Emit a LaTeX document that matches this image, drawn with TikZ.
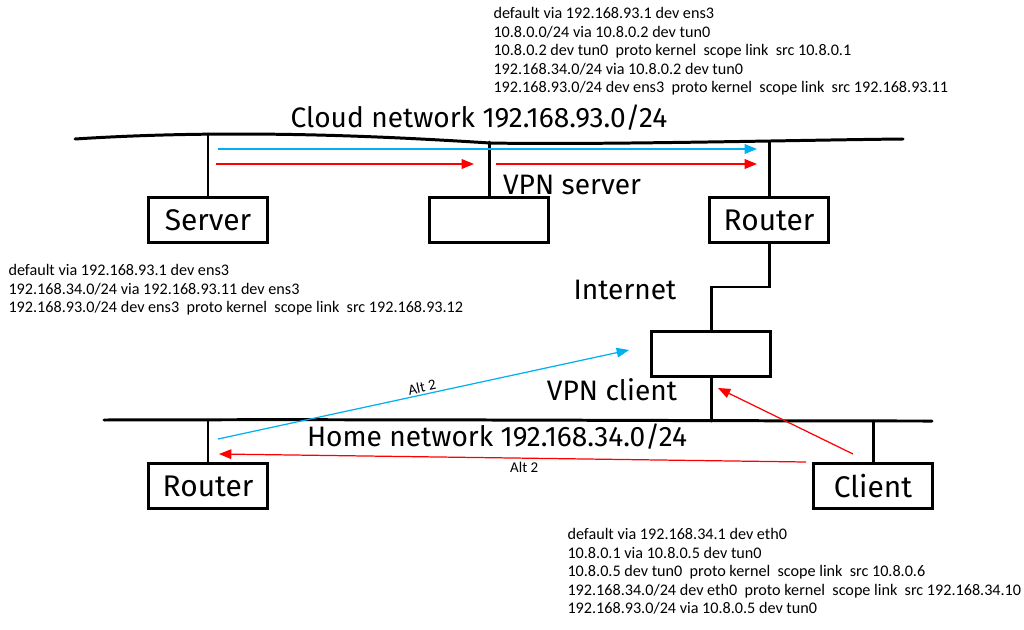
\documentclass[tikz,border=0pt]{standalone}
\usepackage{fontspec}
\setmainfont{Carlito}
\newfontfamily\handfont{Fira Sans}
\usetikzlibrary{arrows.meta,positioning}
\definecolor{alt1}{RGB}{255,0,0}
\definecolor{alt2}{RGB}{0,176,240}

\begin{document}
\begin{tikzpicture}[x=0.02cm,y=-0.02cm,semithick]
	  \tikzstyle{net}=[line width=1.7pt,line cap=round]
	  \tikzstyle{host}=[rectangle,draw=black,line width=1.5pt,minimum width=2.38cm,minimum height=0.9cm,
	                    font=\handfont\fontsize{17}{17}\selectfont,inner sep=0pt]
	  \tikzstyle{hand}=[font=\handfont\fontsize{16}{16}\selectfont,inner sep=0pt]
	  \tikzstyle{routes}=[font=\fontsize{9.2}{10.5}\selectfont,align=left,anchor=north west,inner sep=0pt]
	  \tikzstyle{flow}=[line width=0.7pt,-{Triangle[length=7pt,width=5.5pt]}]
	  \tikzstyle{alt}=[font=\fontsize{8.5}{8.5}\selectfont,inner sep=1pt]

	  \useasboundingbox (0,0) rectangle (1024,629);

	  % networks
	  \draw[net] (75,139) .. controls (230,129) and (380,136) .. (490,143)
	             .. controls (600,145) and (800,140) .. (903,139);
	  \draw[net] (104,420) .. controls (400,419) and (700,421) .. (932,421);
	  \node[hand] (CN) at (479,118) {Cloud network 192.168.93.0/24};
	  \node[hand] (HN) at (497,437) {Home network 192.168.34.0/24};

	  % hosts
	  \node[host] (S) at (208,220) {Server};
	  \node[host] (VS) at (489,220) {};
	  \node[host] (R1) at (769,220) {Router};
	  \node[host] (VC) at (711,354) {};
	  \node[host] (R2) at (208,486) {Router};
	  \node[host] (C) at (873,486) {Client};

	  \node[hand] (VSL) at (572,185) {VPN server};
	  \node[hand] (IL) at (625,290) {Internet};
	  \node[hand] (VCL) at (612,390) {VPN client};

	  % taps
	  \coordinate (St) at (208,134);
	  \coordinate (VSt) at (489,142);
	  \coordinate (R1t) at (769,142);
	  \coordinate (IN) at (711,287);
	  \coordinate (VCt) at (711,421);
	  \coordinate (R2t) at (208,420);
	  \coordinate (Ct) at (873,421);

	  \draw[net] (St) -- (S.north);
	  \draw[net] (VSt) -- (VS.north);
	  \draw[net] (R1t) -- (R1.north);
	  \draw[net] (R1.south) |- (IN) -- (VC.north);
	  \draw[net] (VC.south) -- (VCt);
	  \draw[net] (R2t) -- (R2.north);
	  \draw[net] (Ct) -- (C.north);

	  % flows
	  \coordinate (a1) at (218,149);
	  \coordinate (a2) at (757,149);
	  \coordinate (b1) at (216,164);
	  \coordinate (b2) at (474,164);
	  \coordinate (b3) at (496,164);
	  \coordinate (b4) at (757,164);
	  \coordinate (c1) at (218,439);
	  \coordinate (c2) at (629,350);
	  \coordinate (d1) at (806,462);
	  \coordinate (d2) at (219,454);
	  \coordinate (e1) at (853,454);
	  \coordinate (e2) at (718,388);

	  \draw[flow,alt2] (a1) -- (a2);
	  \draw[flow,alt1] (b1) -- (b2);
	  \draw[flow,alt1] (b3) -- (b4);
	  \draw[flow,alt2] (c1) -- node[alt,above,sloped,pos=0.5,text=black] {Alt 2} (c2);
	  \draw[flow,alt1] (d1) -- node[alt,below,pos=0.48,yshift=-1pt,text=black] {Alt 2} (d2);
	  \draw[flow,alt1] (e1) -- (e2);

	  % routing tables
	  \node[routes] (RT1) at (493,7) {default via 192.168.93.1 dev ens3\\
	    10.8.0.0/24 via 10.8.0.2 dev tun0\\
	    10.8.0.2 dev tun0\ \ proto kernel\ \ scope link\ \ src 10.8.0.1\\
	    192.168.34.0/24 via 10.8.0.2 dev tun0\\
	    192.168.93.0/24 dev ens3\ \ proto kernel\ \ scope link\ \ src 192.168.93.11};
	  \node[routes] (RT2) at (8,264) {default via 192.168.93.1 dev ens3\\
	    192.168.34.0/24 via 192.168.93.11 dev ens3\\
	    192.168.93.0/24 dev ens3\ \ proto kernel\ \ scope link\ \ src 192.168.93.12};
	  \node[routes] (RT3) at (567,528) {default via 192.168.34.1 dev eth0\\
	    10.8.0.1 via 10.8.0.5 dev tun0\\
	    10.8.0.5 dev tun0\ \ proto kernel\ \ scope link\ \ src 10.8.0.6\\
	    192.168.34.0/24 dev eth0\ \ proto kernel\ \ scope link\ \ src 192.168.34.10\\
	    192.168.93.0/24 via 10.8.0.5 dev tun0};
	\end{tikzpicture}
\end{document}
